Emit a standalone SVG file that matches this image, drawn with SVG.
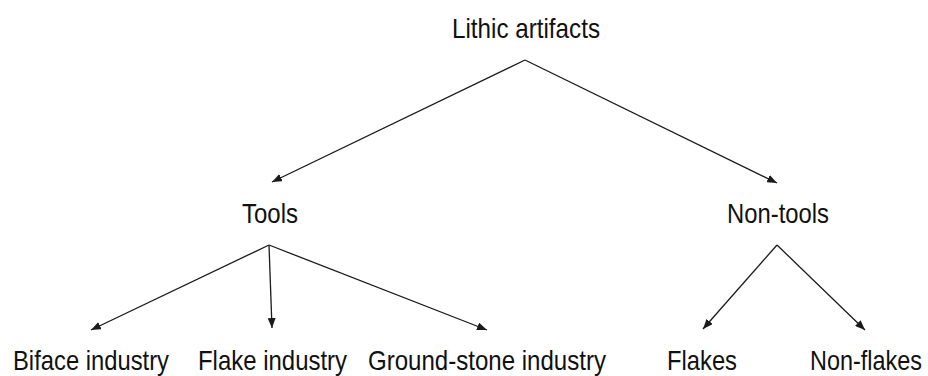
<svg xmlns="http://www.w3.org/2000/svg" width="928" height="376" viewBox="0 0 928 376">
<style>
  .lbl { font-family: "Liberation Sans", Arial, sans-serif; font-size: 24px; fill: #111; }
  .edge { stroke: #1a1a1a; stroke-width: 1.3; fill: none; marker-end: url(#arr); }
</style>
<defs>
  <marker id="arr" markerUnits="userSpaceOnUse" markerWidth="10" markerHeight="8" refX="10" refY="4" orient="auto">
    <path d="M0,0 L10,4 L0,8 z" fill="#1a1a1a"/>
  </marker>
</defs>
<rect width="928" height="376" fill="#ffffff"/>
<g id="connectors">
  <line class="edge" x1="525" y1="60" x2="272" y2="182"/>
  <line class="edge" x1="525" y1="60" x2="777" y2="183"/>
  <line class="edge" x1="269" y1="245" x2="91" y2="330"/>
  <line class="edge" x1="269" y1="245" x2="272" y2="328"/>
  <line class="edge" x1="269" y1="245" x2="487" y2="330"/>
  <line class="edge" x1="777" y1="245" x2="703" y2="329"/>
  <line class="edge" x1="777" y1="245" x2="865" y2="330"/>
</g>
<g id="lithic" transform="translate(452,38) scale(1,1.15)"><text class="lbl" x="0" y="0" textLength="148" lengthAdjust="spacingAndGlyphs">Lithic artifacts</text></g>
<g id="tools" transform="translate(242,223) scale(1,1.15)"><text class="lbl" x="0" y="0" textLength="56" lengthAdjust="spacingAndGlyphs">Tools</text></g>
<g id="nontools" transform="translate(727,223) scale(1,1.15)"><text class="lbl" x="0" y="0" textLength="102" lengthAdjust="spacingAndGlyphs">Non-tools</text></g>
<g id="biface" transform="translate(13,369.5) scale(1,1.15)"><text class="lbl" x="0" y="0" textLength="156" lengthAdjust="spacingAndGlyphs">Biface industry</text></g>
<g id="flake" transform="translate(198,369.5) scale(1,1.15)"><text class="lbl" x="0" y="0" textLength="149" lengthAdjust="spacingAndGlyphs">Flake industry</text></g>
<g id="groundstone" transform="translate(368,369.5) scale(1,1.15)"><text class="lbl" x="0" y="0" textLength="238" lengthAdjust="spacingAndGlyphs">Ground-stone industry</text></g>
<g id="flakes" transform="translate(667,369.5) scale(1,1.15)"><text class="lbl" x="0" y="0" textLength="70" lengthAdjust="spacingAndGlyphs">Flakes</text></g>
<g id="nonflakes" transform="translate(810,369.5) scale(1,1.15)"><text class="lbl" x="0" y="0" textLength="112" lengthAdjust="spacingAndGlyphs">Non-flakes</text></g>
</svg>
